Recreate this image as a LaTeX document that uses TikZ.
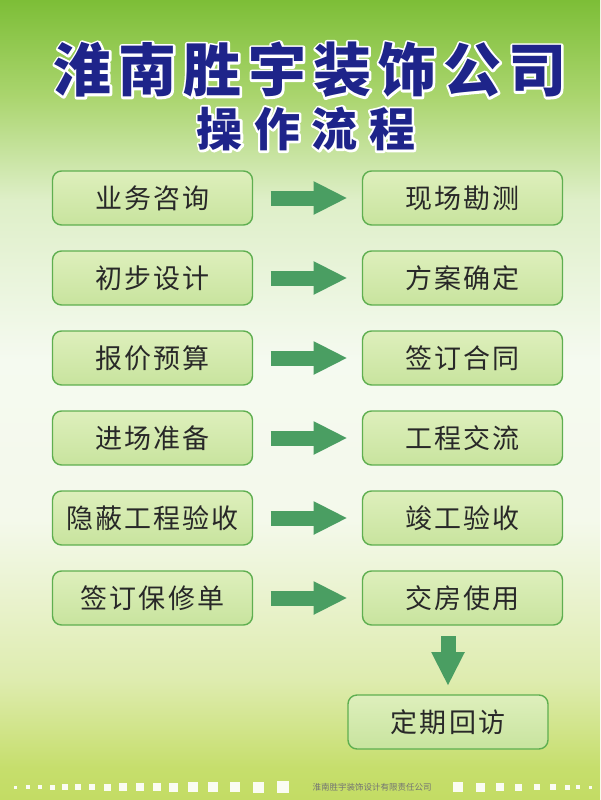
\documentclass[tikz,border=0pt]{standalone}
\usepackage{fontspec}
\usepackage{xcolor}
\usepackage{tikz}
\usetikzlibrary{arrows.meta,positioning}
\newfontfamily\cjkbox[LetterSpace=8]{Noto Sans CJK SC}
\newfontfamily\cjktitle[LetterSpace=12]{Noto Sans CJK SC}
\newfontfamily\cjksub[LetterSpace=25]{Noto Sans CJK SC}
\newfontfamily\cjksmall{Noto Sans CJK SC}
\definecolor{titleblue}{RGB}{30,36,138}
\definecolor{boxline}{RGB}{95,175,80}
\definecolor{boxtop}{RGB}{222,239,188}
\definecolor{boxbot}{RGB}{200,228,158}
\definecolor{arrowgreen}{RGB}{74,158,98}
\definecolor{textgray}{RGB}{40,40,40}
% background, visible part of the shading lies between 25bp and 75bp
\pgfdeclareverticalshading{bgshade}{100bp}{%
  rgb(0bp)=(0.765,0.863,0.392);
  rgb(25bp)=(0.765,0.863,0.392);
  rgb(27bp)=(0.776,0.871,0.424);
  rgb(32.5bp)=(0.871,0.925,0.686);
  rgb(42.5bp)=(0.957,0.976,0.922);
  rgb(52.5bp)=(0.961,0.980,0.941);
  rgb(62.5bp)=(0.871,0.937,0.784);
  rgb(69bp)=(0.667,0.835,0.431);
  rgb(75bp)=(0.490,0.745,0.216);
  rgb(100bp)=(0.490,0.745,0.216)}
% white outlined text
\newcommand{\outlined}[1]{%
  \special{pdf:literal direct q 1 1 1 RG 4.5 w 1 j 1 Tr}#1\special{pdf:literal direct Q}}
\begin{document}
\begin{tikzpicture}[
x=1pt, y=-1pt,
node distance=26pt and 110pt,
stepbox/.style={draw=boxline, line width=1.4pt, outer sep=0pt, rounded corners=9pt, top color=boxtop, bottom color=boxbot,
  minimum width=200pt, minimum height=54pt, text=textgray, font=\cjkbox\fontsize{27}{30}\selectfont},
headline/.style={text=titleblue, inner sep=0pt},
blockarr/.style={arrowgreen, line width=15pt, -{Triangle[length=34pt, width=31pt]}},
dot/.style={fill=white, fill opacity=0.92, inner sep=0pt}
]
\useasboundingbox (0,0) rectangle (600,800);
\fill[shading=bgshade] (0,0) rectangle (600,800);

% title, white rim first and the blue letters on top
\node[headline, font=\cjktitle\bfseries\fontsize{58}{60}\selectfont] (titlerim) at (310,70) {\outlined{淮南胜宇装饰公司}};
\node[headline, font=\cjktitle\bfseries\fontsize{58}{60}\selectfont] (title) at (titlerim) {淮南胜宇装饰公司};
\node[headline, font=\cjksub\bfseries\fontsize{46}{50}\selectfont] (subrim) at (306,129) {\outlined{操作流程}};
\node[headline, font=\cjksub\bfseries\fontsize{46}{50}\selectfont] (subtitle) at (subrim) {操作流程};

% left column
\node[stepbox] (l1) at (152.5,198) {业务咨询};
\node[stepbox, below=of l1] (l2) {初步设计};
\node[stepbox, below=of l2] (l3) {报价预算};
\node[stepbox, below=of l3] (l4) {进场准备};
\node[stepbox, below=of l4] (l5) {隐蔽工程验收};
\node[stepbox, below=of l5] (l6) {签订保修单};

% right column
\node[stepbox, right=of l1] (r1) {现场勘测};
\node[stepbox, right=of l2] (r2) {方案确定};
\node[stepbox, right=of l3] (r3) {签订合同};
\node[stepbox, right=of l4] (r4) {工程交流};
\node[stepbox, right=of l5] (r5) {竣工验收};
\node[stepbox, right=of l6] (r6) {交房使用};

\node[stepbox, below=70pt of r6, xshift=-14.5pt] (visit) {定期回访};

\foreach \i in {1,...,6}
  \draw[blockarr] ([xshift=18pt]l\i.east) -- ([xshift=-15pt]r\i.west);
\draw[blockarr] ([yshift=-11pt]r6.south -| visit.north) -- ([yshift=9pt]visit.north);

% footer strip
\foreach \x/\s in {15/3,28/4,40/4.5,52/5,65/5.5,78/6,92/6.5,107/7,123/7.5,140/8,157/8.5,173/9,193/9.5,213/10,235/10.5,258/11,283/12}
  \node[dot, minimum size=\s pt] (dl\x) at (\x,787) {};
\foreach \x/\s in {458/10,480/9,500/8,518/7,537/6.5,553/6,567/5,578/4,590/3}
  \node[dot, minimum size=\s pt] (dr\x) at (\x,787) {};
\node[text=black!55, font=\cjksmall\fontsize{8.5}{9}\selectfont] (footer) at (372,787) {淮南胜宇装饰设计有限责任公司};
\end{tikzpicture}
\end{document}
